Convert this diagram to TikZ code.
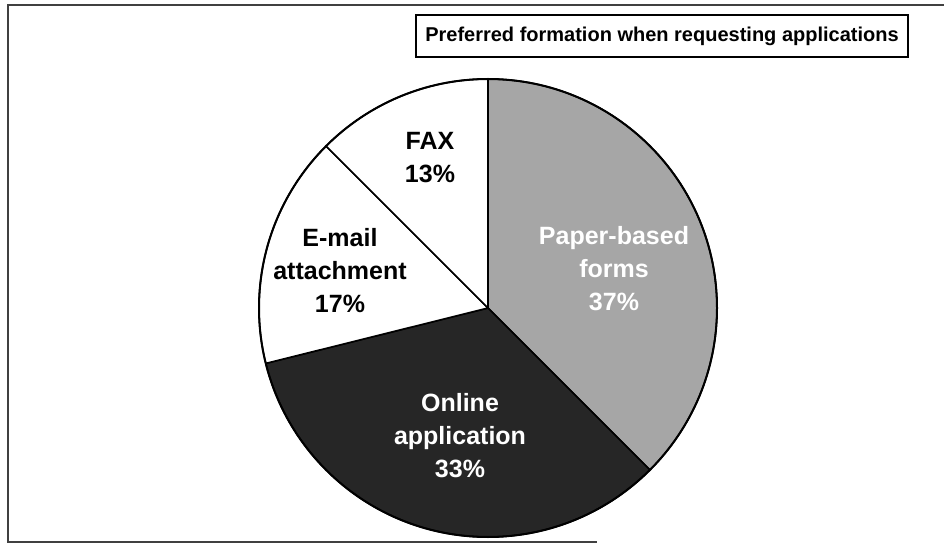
\documentclass[tikz,border=0pt]{standalone}
\usepackage{fontspec}
\setmainfont{Liberation Sans}
\begin{document}
\begin{tikzpicture}[x=1pt,y=1pt,
  slice/.style={draw=black,line width=1.6pt,line join=round},
  lbl/.style={font=\bfseries\fontsize{25}{33}\selectfont,align=center,inner sep=0pt},
  framestyle/.style={line width=1.6pt,draw=black!75},
  titlebox/.style={draw=black,line width=1.3pt,inner sep=0pt,minimum width=492pt,minimum height=42pt,
    font=\bfseries\fontsize{20}{24}\selectfont},
]
\useasboundingbox (0,0) rectangle (944,544);
\fill[white] (0,0) rectangle (944,544);

% outer frame (left, top and bottom edges)
\draw[framestyle] (944,539) -- (8,539) -- (8,2) -- (597,2);

% title
\node[titlebox] (title) at (662,508) {Preferred formation when requesting applications};

% pie
\coordinate (c) at (488,236);
\def\R{229pt}
\filldraw[slice,fill=black!35] (c) -- ++(90:\R) arc[start angle=90,end angle=-45,radius=\R] -- cycle;
\filldraw[slice,fill=black!85] (c) -- ++(-45:\R) arc[start angle=-45,end angle=-166,radius=\R] -- cycle;
\filldraw[slice,fill=white] (c) -- ++(-166:\R) arc[start angle=-166,end angle=-225,radius=\R] -- cycle;
\filldraw[slice,fill=white] (c) -- ++(135:\R) arc[start angle=135,end angle=90,radius=\R] -- cycle;
\draw[line width=2pt] (c) circle[radius=\R];

% slice labels
\node[lbl] (fax) at (430,386) {FAX\\13\%};
\node[lbl] (email) at (340,273) {E-mail\\attachment\\17\%};
\node[lbl,text=white] (paper) at (614,275) {Paper-based\\forms\\37\%};
\node[lbl,text=white] (online) at (460,108) {Online\\application\\33\%};
\end{tikzpicture}
\end{document}
